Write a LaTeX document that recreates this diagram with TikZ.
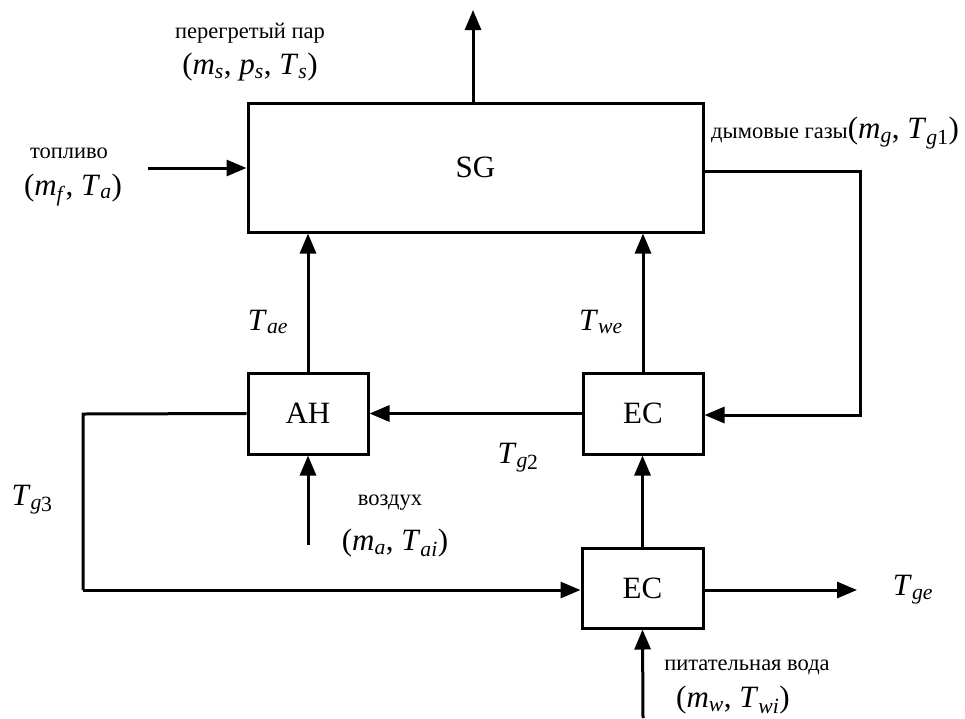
\documentclass[tikz,border=0pt]{standalone}
\usepackage{fontspec}
\setmainfont{Liberation Serif}
\newfontfamily\rusfont{Liberation Serif}
\usetikzlibrary{arrows.meta}
\newcommand\qvar[2]{\textit{#1}\textsubscript{\textit{#2}}}
\begin{document}
\begin{tikzpicture}[x=1pt,y=-1pt,
  blk/.style={draw,line width=3pt,inner sep=0pt,font=\fontsize{31}{34}\selectfont},
  flow/.style={line width=3pt,-{Triangle[length=20pt,width=16pt]}},
  pipe/.style={line width=3pt},
  rus/.style={font=\rusfont\fontsize{22.5}{25}\selectfont,inner sep=0pt},
  mlab/.style={font=\fontsize{31}{34}\selectfont,inner sep=0pt}]
\useasboundingbox (0,0) rectangle (965,718);
% blocks
\node[blk,minimum width=455pt,minimum height=129pt] (SG) at (475.5,167.5) {SG};
\node[blk,minimum width=120pt,minimum height=81pt] (AH) at (308,413.5) {AH};
\node[blk,minimum width=120pt,minimum height=81pt] (EC1) at (643,413.5) {EC};
\node[blk,minimum width=121pt,minimum height=80pt] (EC2) at (642.5,588) {EC};
% coordinates
\coordinate (steamout) at (473,10);
\coordinate (fuelin) at (148,168);
\coordinate (flueA) at (703,171);
\coordinate (flueB) at (860,171);
\coordinate (flueC) at (860,415);
\coordinate (ahA) at (83,414);
\coordinate (ahB) at (83,590);
\coordinate (airin) at (308,545);
\coordinate (geout) at (857,590);
\coordinate (waterin) at (643,718);
% connectors
\draw[flow] (SG.north -| steamout) -- (steamout);
\draw[flow] (fuelin) -- (fuelin -| SG.west);
\draw[flow] (flueA) -- (flueB) -- (flueC) -- (EC1.east |- flueC);
\draw[flow] (EC1.west) -- (AH.east);
\draw[flow] (AH.north) -- (AH.north |- SG.south);
\draw[flow] (EC1.north) -- (EC1.north |- SG.south);
\draw[pipe] (AH.west) -- (ahA) -- (ahB);
\draw[flow] (ahB) -- (EC2.west |- ahB);
\draw[flow] (airin) -- (AH.south);
\draw[flow] (EC2.north) -- (EC2.north |- EC1.south);
\draw[flow] (EC2.east |- geout) -- (geout);
\draw[flow] (waterin) -- (EC2.south);
% labels
\node[rus] (l1) at (250,33) {перегретый пар};
\node[mlab] (l2) at (250,67) {(\qvar{m}{s}, \qvar{p}{s}, \qvar{T}{s})};
\node[rus] (l3) at (69,153) {топливо};
\node[mlab] (l4) at (73,190) {(\qvar{m}{f}, \qvar{T}{a})};
\node[rus,anchor=west] (l5) at (711,133) {дымовые газы{\fontsize{31}{34}\selectfont(\qvar{m}{g}, \textit{T}\textsubscript{\textit{g}1})}};
\node[mlab] (l6) at (268,322) {\qvar{T}{ae}};
\node[mlab] (l7) at (601,322) {\qvar{T}{we}};
\node[mlab] (l8) at (518,458) {\qvar{T}{g}\kern-1pt\textsubscript{2}};
\node[mlab] (l9) at (32,500) {\qvar{T}{g}\kern-1pt\textsubscript{3}};
\node[rus] (l10) at (390,503) {воздух};
\node[mlab] (l11) at (395,543) {(\qvar{m}{a}, \qvar{T}{ai})};
\node[mlab] (l12) at (913,590) {\qvar{T}{ge}};
\node[rus] (l13) at (747,667) {питательная вода};
\node[mlab] (l14) at (733,700) {(\qvar{m}{w}, \qvar{T}{wi})};
\end{tikzpicture}
\end{document}
